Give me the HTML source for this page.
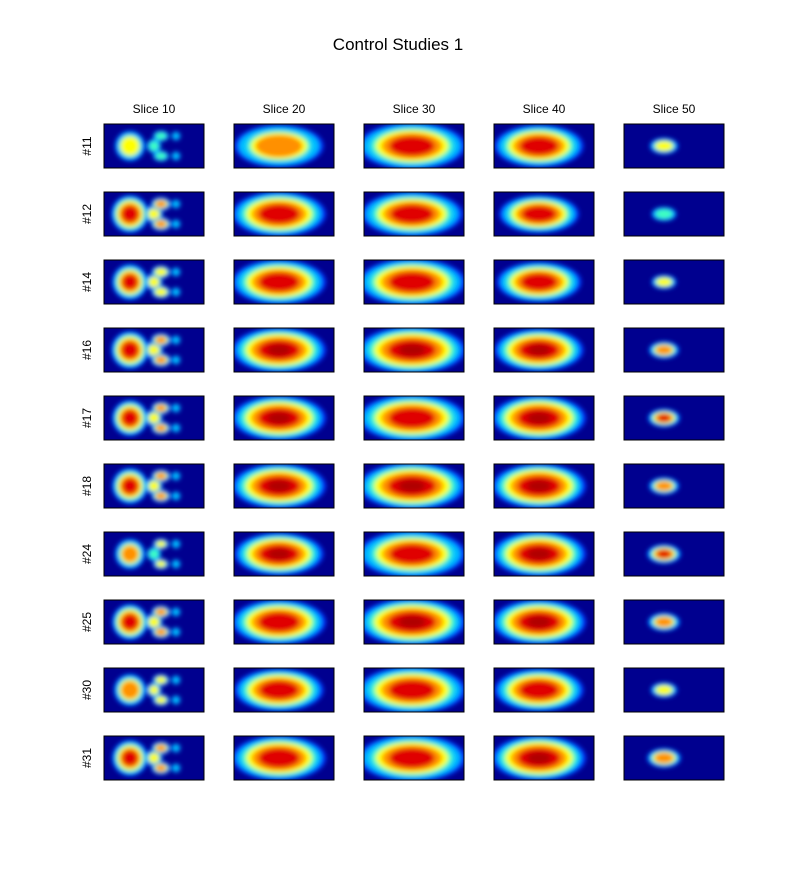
<!DOCTYPE html>
<html><head><meta charset="utf-8"><style>
html,body{margin:0;padding:0;background:#fff;}
svg text{font-family:"Liberation Sans",sans-serif;fill:#000;}
</style></head><body>
<svg id="fig" width="799" height="869" viewBox="0 0 799 869" xmlns="http://www.w3.org/2000/svg">
<defs>
<filter id="bl" x="-30%" y="-30%" width="160%" height="160%"><feGaussianBlur stdDeviation="2.4"/></filter>
<clipPath id="cellclip"><rect x="0" y="0" width="100" height="44"/></clipPath>
</defs>
<rect width="799" height="869" fill="#fff"/>
<text x="398" y="50" font-size="17" text-anchor="middle">Control Studies 1</text>
<g id="grid"></g>
</svg>
<script>
const sliceLabels = ["Slice 10","Slice 20","Slice 30","Slice 40","Slice 50"];
const studyLabels = ["#11","#12","#14","#16","#17","#18","#24","#25","#30","#31"];
// relative activation intensity per study (rows) and slice (cols), 0..1
const intensity = [
 [0.55,0.6,0.8,0.85,0.5],
 [0.9,0.9,0.8,0.85,0.35],
 [0.8,0.85,0.85,0.85,0.5],
 [0.9,0.95,0.95,0.95,0.6],
 [0.9,0.95,0.85,1.0,0.75],
 [0.85,0.95,0.95,1.0,0.6],
 [0.6,0.95,0.75,0.95,0.75],
 [0.9,0.9,0.95,0.95,0.6],
 [0.7,0.9,0.85,0.9,0.5],
 [0.85,0.9,0.8,1.0,0.7]
];
// brain extent scale per study/slice
const extent = [
 [0.8,0.95,1.0,0.95,0.8],
 [1.0,1.0,0.95,0.85,0.7],
 [0.95,1.0,1.0,0.9,0.7],
 [1.0,1.0,1.0,0.95,0.85],
 [0.95,1.0,1.0,1.0,0.9],
 [0.95,1.0,1.0,1.0,0.85],
 [0.8,0.95,1.0,1.0,0.95],
 [0.95,1.0,1.0,1.0,0.9],
 [0.85,0.95,1.0,0.95,0.75],
 [0.95,1.0,1.0,1.0,0.95]
];
const colX0=104, colStep=130, rowY0=124, rowStep=68, cw=100, ch=44;
const layers=[["#0040ff",1.12],["#00c0ff",1.0],["#40ffc0",0.9],["#ffff00",0.8],["#ff9000",0.66],["#e00000",0.5],["#b00000",0.28]];
function blobs(col,s){
 if(col===0) return [[26,22,17*s,17*s],[50,22,8*s,8*s,0.6],[57,12,9*s,6*s,0.7],[57,32,9*s,6*s,0.7],[72,12,4,4,0.2],[72,32,4,4,0.2]];
 if(col===1) return [[45,22,42*s,20*s]];
 if(col===2) return [[48,22,48*s,21*s]];
 if(col===3) return [[45,22,42*s,20*s]];
 return [[40,22,16*s,9*s]];
}
const g=document.getElementById('grid');
const NS="http://www.w3.org/2000/svg";
function mk(t,a){const e=document.createElementNS(NS,t);for(const k in a)e.setAttribute(k,a[k]);return e;}
sliceLabels.forEach((lab,c)=>{
 const t=mk('text',{x:colX0+c*colStep+cw/2,y:113,'font-size':12,'text-anchor':'middle'});
 
 
 t.textContent=lab;g.appendChild(t);
});
studyLabels.forEach((lab,r)=>{
 const y=rowY0+r*rowStep+ch/2;
 const t=mk('text',{x:0,y:0,'font-size':12,'text-anchor':'middle',transform:`translate(91,${y}) rotate(-90)`});
 
 
 t.textContent=lab;g.appendChild(t);
 sliceLabels.forEach((_,c)=>{
  const x=colX0+c*colStep, yy=rowY0+r*rowStep;
  const cell=mk('g',{transform:`translate(${x},${yy})`});
  
  
  const inner=mk('g',{'clip-path':'url(#cellclip)'});
  inner.appendChild(mk('rect',{x:0,y:0,width:cw,height:ch,fill:'#00008f'}));
  const bg=mk('g',{filter:'url(#bl)'});
  const I=intensity[r][c], s=extent[r][c];
  blobs(c,s).forEach(b=>{
   const w=(b[4]===undefined?1:b[4])*I;
   const nl=Math.max(2,Math.round(1+w*6));
   layers.slice(0,nl).forEach(([col,f],i)=>{
    const k = i<2?f:f*(0.7+0.3*w);
    bg.appendChild(mk('ellipse',{cx:b[0],cy:b[1],rx:b[2]*k,ry:b[3]*k,fill:col}));
   });
  });
  inner.appendChild(bg);
  cell.appendChild(inner);
  cell.appendChild(mk('rect',{x:0,y:0,width:cw,height:ch,fill:'none',stroke:'#000','stroke-width':1}));
  g.appendChild(cell);
 });
});
</script>
</body></html>
